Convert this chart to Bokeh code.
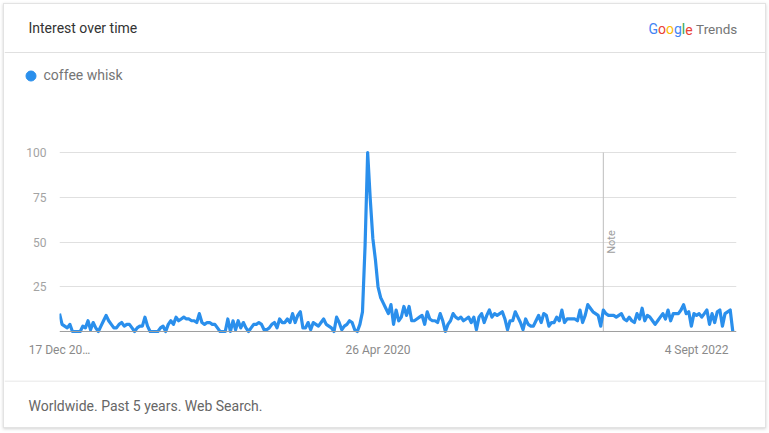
import pandas as pd
from bokeh.plotting import figure
from bokeh.layouts import column
from bokeh.models import (Range1d, FixedTicker, Span, Label, Legend, LegendItem)
from bokeh.core.properties import value
from bokeh.embed import file_html
from bokeh.resources import INLINE

# ---------------- data ----------------
SERIES_NAME = "coffee whisk"
START_WEEK = "2017-12-17"

interest_2018 = [10, 4, 3, 2, 4, 0, 0, 0, 0, 3, 2, 6, 1, 5, 2, 0, 3, 6, 9, 6,
                 4, 2, 2, 4, 5, 3, 4, 4, 2, 0, 2, 3, 3, 8, 3, 0, 0, 0, 0, 2,
                 3, 0, 4, 6, 4, 8, 6, 7, 8, 7, 7, 6]
interest_2019 = [6, 5, 10, 5, 4, 5, 5, 4, 4, 2, 0, 0, 0, 7, 0, 6, 1, 6, 2, 5,
                 2, 0, 2, 4, 4, 5, 4, 1, 1, 2, 4, 5, 2, 7, 5, 5, 7, 5, 10, 5,
                 9, 11, 2, 2, 5, 1, 5, 4, 3, 5, 7, 4]
interest_2020 = [3, 2, 0, 8, 5, 1, 3, 4, 6, 5, 1, 0, 4, 11, 48, 100, 74, 52, 40, 25,
                 19, 16, 13, 10, 15, 4, 12, 6, 8, 14, 9, 14, 6, 6, 7, 8, 9, 4, 11, 7,
                 6, 6, 5, 10, 6, 0, 4, 6, 10, 8, 7, 8]
interest_2021 = [6, 7, 8, 5, 8, 1, 8, 10, 5, 9, 12, 8, 10, 9, 10, 11, 7, 1, 6, 6,
                 11, 8, 5, 1, 7, 4, 3, 3, 6, 9, 5, 10, 9, 3, 5, 5, 8, 6, 12, 5,
                 7, 7, 7, 7, 6, 12, 5, 9, 15, 13, 11, 10]
interest_2022 = [9, 3, 12, 10, 9, 9, 9, 8, 9, 10, 7, 6, 8, 6, 5, 10, 7, 13, 6, 9,
                 8, 6, 4, 6, 8, 10, 7, 12, 6, 10, 10, 10, 12, 15, 10, 11, 3, 10, 9, 10,
                 8, 10, 12, 4, 10, 5, 11, 12, 3, 10, 11, 12, 0]

values = interest_2018 + interest_2019 + interest_2020 + interest_2021 + interest_2022
dates = pd.date_range(START_WEEK, periods=len(values), freq="7D")

x_tick_dates = ["2017-12-17", "2020-04-26", "2022-09-04"]
x_tick_labels = ["17 Dec 20\u2026", "26 Apr 2020", "4 Sept 2022"]
y_ticks = [25, 50, 75, 100]
note_date = "2021-12-26"
note_span = [0, 100]

TITLE = "Interest over time"
FOOTER = "Worldwide. Past 5 years. Web Search."
LOGO_LETTERS = ["G", "o", "o", "g", "l", "e"]
LOGO_COLORS = ["#4285F4", "#EA4335", "#FBBC05", "#4285F4", "#34A853", "#EA4335"]
LOGO_WORD = "Trends"

# ---------------- styling / layout ----------------
BLUE = "#2a8fec"
FONT = "Roboto"
SEP = "#e0e0e0"
# card inner box in page pixels
CX0, CX1 = 4, 765
HEAD_Y0, MAIN_Y0, FOOT_Y0, CARD_Y1 = 4, 136, 380, 427
IW = CX1 - CX0
PLOT_L, PLOT_R, PLOT_T, PLOT_B = 59, 736, 149, 334


def ms(d):
    return pd.Timestamp(d).value // 10**6


def bare(height, y0, y1):
    f = figure(width=IW, height=height, output_backend="svg", toolbar_location=None,
               x_range=Range1d(CX0, CX1), y_range=Range1d(y1, y0),
               x_axis_location=None, y_axis_location=None,
               min_border=0, min_border_left=0, min_border_right=0,
               min_border_top=0, min_border_bottom=0)
    f.frame_align = False
    f.grid.visible = False
    f.outline_line_color = None
    f.background_fill_color = "white"
    f.border_fill_color = "white"
    return f


# ---------- header ----------
head = bare(MAIN_Y0 - HEAD_Y0, HEAD_Y0, MAIN_Y0)
head.text(x=[28], y=[27.5], text=[TITLE], text_font=value(FONT), text_font_size="14px",
          text_color="#333333", text_baseline="middle")
adv = [9.4, 8.0, 8.0, 7.9, 3.4, 7.4]
lx = [648.0]
for a in adv[:-1]:
    lx.append(lx[-1] + a)
head.text(x=lx, y=[28.5] * len(LOGO_LETTERS), text=LOGO_LETTERS, text_color=LOGO_COLORS,
          text_font=value(FONT), text_font_size="14px", text_baseline="middle")
head.text(x=[lx[-1] + adv[-1] + 3.5], y=[28.5], text=[LOGO_WORD], text_color="#757575",
          text_font=value(FONT), text_font_size="13.5px", text_baseline="middle")
head.add_layout(Span(location=52, dimension="width", line_color=SEP, line_width=1))

dot = head.scatter(x=[float("nan")], y=[float("nan")], size=10, color=BLUE)
legend = Legend(items=[LegendItem(label=SERIES_NAME, renderers=[dot])],
                location=(17.5 - CX0, MAIN_Y0 - 87.5), padding=0, margin=0, spacing=0,
                glyph_width=25, glyph_height=25, label_height=25, label_standoff=1,
                border_line_color=None, background_fill_alpha=0,
                label_text_font=FONT, label_text_font_size="14px",
                label_text_color="#757575", label_text_baseline="middle")
head.add_layout(legend)

# ---------- main chart ----------
MH = FOOT_Y0 - MAIN_Y0
p = figure(width=IW, height=MH, x_axis_type="datetime", output_backend="svg",
           toolbar_location=None,
           min_border_left=PLOT_L - CX0, min_border_right=CX1 - PLOT_R,
           min_border_top=PLOT_T - MAIN_Y0, min_border_bottom=FOOT_Y0 - PLOT_B,
           x_range=Range1d(dates[0], dates[-1] + pd.Timedelta(days=10)),
           y_range=Range1d(-1.68, 101.7))
p.frame_align = False
p.outline_line_color = None
p.background_fill_color = "white"
p.border_fill_color = "white"

p.xgrid.visible = False
p.ygrid.ticker = FixedTicker(ticks=y_ticks)
p.ygrid.grid_line_color = SEP
p.ygrid.grid_line_width = 1

p.yaxis.ticker = FixedTicker(ticks=y_ticks)
p.yaxis.axis_line_color = None
p.yaxis.major_tick_line_color = None
p.yaxis.minor_tick_line_color = None
p.yaxis.major_label_standoff = 7
p.yaxis.major_label_text_font = FONT
p.yaxis.major_label_text_font_size = "12px"
p.yaxis.major_label_text_color = "#a3a3a3"

p.xaxis.ticker = FixedTicker(ticks=[ms(d) for d in x_tick_dates])
p.xaxis.major_label_overrides = {ms(d): t for d, t in zip(x_tick_dates, x_tick_labels)}
p.xaxis.axis_line_color = None
p.xaxis.major_tick_line_color = None
p.xaxis.minor_tick_line_color = None
p.xaxis.major_label_standoff = 2
p.xaxis.major_label_text_font = FONT
p.xaxis.major_label_text_font_size = "12px"
p.xaxis.major_label_text_color = "#8a8a8a"

p.add_layout(Span(location=0, dimension="width", line_color="#9e9e9e", line_width=1))
nd = pd.Timestamp(note_date)
p.segment(x0=[nd], y0=[note_span[0]], x1=[nd], y1=[note_span[1]],
          line_color="#bdbdbd", line_width=1)
p.add_layout(Label(x=ms(note_date), y=50, text="Note", angle=90, angle_units="deg",
                   text_align="center", text_baseline="top", x_offset=2,
                   text_font=FONT, text_font_size="11px", text_color="#9e9e9e"))

p.line(dates, values, line_width=3.2, line_color=BLUE, line_join="round")

# ---------- footer ----------
foot = bare(CARD_Y1 - FOOT_Y0, FOOT_Y0, CARD_Y1)
foot.add_layout(Span(location=380.5, dimension="width", line_color=SEP, line_width=1))
foot.text(x=[28], y=[405.5], text=[FOOTER], text_font=value(FONT), text_font_size="14px",
          text_color="#666666", text_baseline="middle")

page = column(head, p, foot, spacing=0, margin=(3, 4, 5, 3),
              styles={"border": "1px solid #e3e3e3",
                      "box-shadow": "0 1px 3px rgba(0,0,0,0.18)"})

open("out.html", "w").write(file_html(page, INLINE))
